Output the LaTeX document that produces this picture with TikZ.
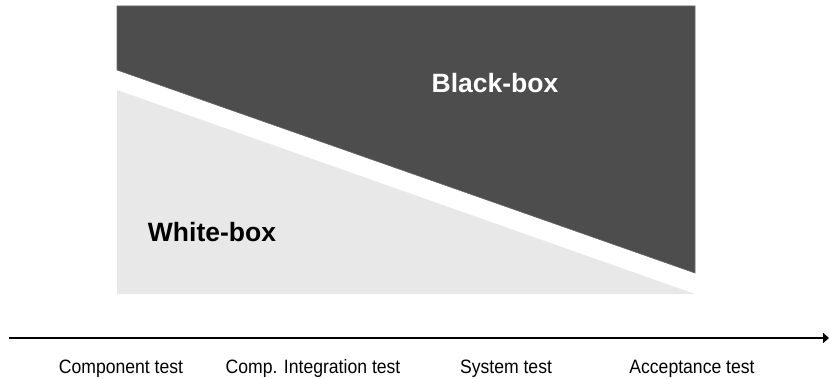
\documentclass[tikz,border=0pt]{standalone}
\usepackage{fontspec}
\setmainfont{Liberation Sans}
\usetikzlibrary{arrows.meta}
\definecolor{darkfill}{HTML}{4D4D4D}
\definecolor{lightfill}{HTML}{E8E8E8}
\begin{document}
\begin{tikzpicture}[x=1pt,y=1pt,
  bigtext/.style={font=\fontsize{26.5}{30}\selectfont\bfseries, anchor=base, inner sep=0pt},
  phase/.style={font=\fontsize{17.6}{20}\selectfont, anchor=base, inner sep=0pt, yscale=1.1, transform shape},
  axis/.style={line width=2.2pt, -{Triangle[length=6pt,width=10pt]}}]
\useasboundingbox (0,0) rectangle (829,378);
% light region (white-box)
\fill[lightfill] (117,288) -- (695,84) -- (117,84) -- cycle;
% dark region (black-box)
\filldraw[fill=darkfill, draw=darkfill!85!white, line width=0.6pt] (117,372) -- (695,372) -- (695,105) -- (117,308) -- cycle;
\node[bigtext, text=white] (bb) at (495,285) {Black-box};
\node[bigtext, text=black] (wb) at (212,137) {White-box};
% axis
\coordinate (a0) at (9,40);
\coordinate (a1) at (829,40);
\draw[axis] (a0) -- (a1);
\node[phase] (p1) at (121,5) {Component test};
\node[phase] (p2) at (313,5) {Comp. Integration test};
\node[phase] (p3) at (506,5) {System test};
\node[phase] (p4) at (692,5) {Acceptance test};
\end{tikzpicture}
\end{document}
